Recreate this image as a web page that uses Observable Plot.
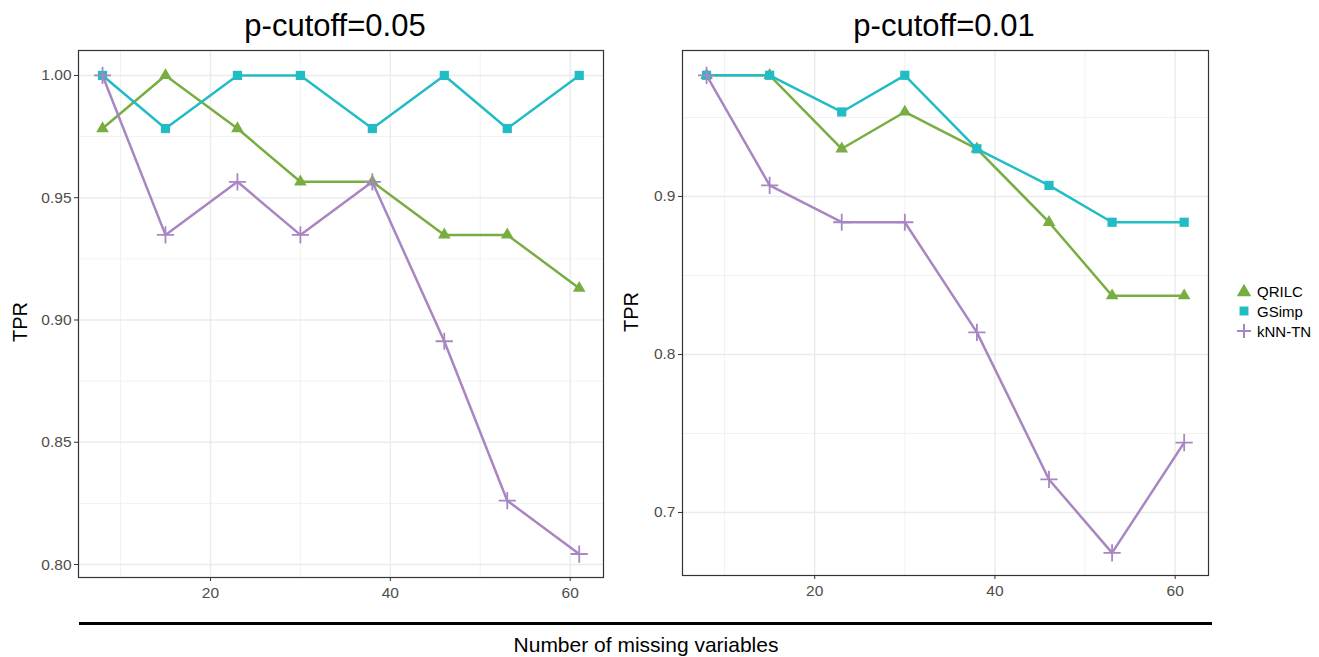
<!DOCTYPE html>
<html>
<head>
<meta charset="utf-8">
<script src="https://cdn.jsdelivr.net/npm/d3@7"></script>
<script src="https://cdn.jsdelivr.net/npm/@observablehq/plot@0.6"></script>
<style>
  html, body { margin: 0; padding: 0; background: #fff; }
  #root { position: relative; width: 1319px; height: 657px; overflow: hidden; font-family: "Liberation Sans", Arial, sans-serif; }
  #root svg.plotpanel text { font-size: 15.5px; font-family: "Liberation Sans", Arial, sans-serif; }
  .abs { position: absolute; }
  .title { font-size: 31px; line-height: 31px; color: #000; transform: translateX(-50%); white-space: nowrap; }
  .ylab { font-size: 20px; line-height: 20px; color: #000; transform: translate(-50%, -50%) rotate(-90deg); white-space: nowrap; }
  .legend-row { display: flex; align-items: center; height: 20px; font-size: 15px; color: #000; }
  .legend-row svg { margin-right: 3px; }
</style>
</head>
<body>
<div id="root"></div>
<script>
// ---- data ----
const missingVars = [8, 15, 23, 30, 38, 46, 53, 61];
const methods = ["QRILC", "GSimp", "kNN-TN"];
const methodColors = ["#78ad42", "#22bcc4", "#a886c2"];
const methodSymbols = ["triangle", "square", "plus"];

// p-cutoff = 0.05
const qrilc05 = [0.9783, 1.0000, 0.9783, 0.9565, 0.9565, 0.9348, 0.9348, 0.9130];
const gsimp05 = [1.0000, 0.9783, 1.0000, 1.0000, 0.9783, 1.0000, 0.9783, 1.0000];
const knn05   = [1.0000, 0.9348, 0.9565, 0.9348, 0.9565, 0.8913, 0.8261, 0.8043];

// p-cutoff = 0.01
const qrilc01 = [0.9767, 0.9767, 0.9302, 0.9535, 0.9302, 0.8837, 0.8372, 0.8372];
const gsimp01 = [0.9767, 0.9767, 0.9535, 0.9767, 0.9302, 0.9070, 0.8837, 0.8837];
const knn01   = [0.9767, 0.9070, 0.8837, 0.8837, 0.8140, 0.7209, 0.6744, 0.7442];

const yTicks05 = [0.80, 0.85, 0.90, 0.95, 1.00];
const yMinor05 = [0.825, 0.875, 0.925, 0.975];
const yTicks01 = [0.7, 0.8, 0.9];
const yMinor01 = [0.75, 0.85, 0.95];
const xTicks = [20, 40, 60];
const xMinor = [10, 30, 50];
const panelTitles = ["p-cutoff=0.05", "p-cutoff=0.01"];
const yTitle = "TPR";
const xTitle = "Number of missing variables";

function rows(q, g, k) {
  const out = [];
  [q, g, k].forEach((vals, i) => {
    vals.forEach((v, j) => out.push({method: methods[i], x: missingVars[j], y: v}));
  });
  return out;
}

function panel(data, opts) {
  const marks = [
    Plot.gridY(opts.yMinor, {stroke: "#ececec", strokeOpacity: 1, strokeWidth: 0.7}),
    Plot.gridX(xMinor, {stroke: "#ececec", strokeOpacity: 1, strokeWidth: 0.7}),
    Plot.gridY(opts.yTicks, {stroke: "#ebebeb", strokeOpacity: 1, strokeWidth: 1.4}),
    Plot.gridX(xTicks, {stroke: "#ebebeb", strokeOpacity: 1, strokeWidth: 1.4}),
    Plot.axisY(opts.yTicks, {tickSize: 4, tickPadding: 3, tickFormat: opts.fmt, fontSize: 15.5, color: "#333", fill: "#4d4d4d", label: null}),
    Plot.axisX(xTicks, {tickSize: 4, tickPadding: 5, fontSize: 15.5, color: "#333", fill: "#4d4d4d", label: null}),
  ];
  methods.forEach((m, i) => {
    const d = data.filter(r => r.method === m);
    marks.push(Plot.line(d, {x: "x", y: "y", stroke: methodColors[i], strokeWidth: 2.5}));
    if (methodSymbols[i] === "plus") {
      marks.push(Plot.dot(d, {x: "x", y: "y", symbol: "plus", r: 5.6, stroke: methodColors[i], strokeWidth: 1.8}));
    } else {
      marks.push(Plot.dot(d, {x: "x", y: "y", symbol: methodSymbols[i], r: methodSymbols[i] === "triangle" ? 4.7 : 5.2, fill: methodColors[i], stroke: "none"}));
    }
  });
  marks.push(Plot.frame({stroke: "#333", strokeWidth: 1.2}));
  const svg = Plot.plot({
    width: opts.width, height: opts.height,
    marginLeft: opts.ml, marginRight: opts.mr, marginTop: opts.mt, marginBottom: opts.mb,
    style: {fontFamily: '"Liberation Sans", Arial, sans-serif', background: "transparent", fontSize: "15.5px", color: "#333"},
    x: {domain: [5.33, 63.7]},
    y: {domain: opts.yDomain},
    marks
  });
  svg.classList.add("plotpanel");
  return svg;
}

const root = document.getElementById("root");

const left = panel(rows(qrilc05, gsimp05, knn05), {
  width: 610, height: 600, ml: 78, mr: 7, mt: 50, mb: 23,
  yDomain: [0.7947, 1.0102], yTicks: yTicks05, yMinor: yMinor05,
  fmt: d3.format(".2f")
});
left.classList.add("abs"); left.style.left = "0px"; left.style.top = "0px";
root.appendChild(left);

const right = panel(rows(qrilc01, gsimp01, knn01), {
  width: 608, height: 600, ml: 72, mr: 10, mt: 50, mb: 25,
  yDomain: [0.6601, 0.9924], yTicks: yTicks01, yMinor: yMinor01,
  fmt: d3.format(".1f")
});
right.classList.add("abs"); right.style.left = "610px"; right.style.top = "0px";
root.appendChild(right);

// titles
[[panelTitles[0], 335], [panelTitles[1], 944]].forEach(([t, cx]) => {
  const d = document.createElement("div");
  d.className = "abs title"; d.textContent = t;
  d.style.left = cx + "px"; d.style.top = "10px";
  root.appendChild(d);
});

// y-axis titles
[[20, 322], [631, 312]].forEach(([cx, cy]) => {
  const d = document.createElement("div");
  d.className = "abs ylab"; d.textContent = yTitle;
  d.style.left = cx + "px"; d.style.top = cy + "px";
  root.appendChild(d);
});

// bottom rule and shared x label
const rule = document.createElement("div");
rule.className = "abs";
Object.assign(rule.style, {left: "79px", top: "622px", width: "1133px", height: "3px", background: "#000"});
root.appendChild(rule);
const xl = document.createElement("div");
xl.className = "abs";
xl.textContent = xTitle;
Object.assign(xl.style, {left: "646px", top: "633px", transform: "translateX(-50%)", fontSize: "21px", lineHeight: "23px", whiteSpace: "nowrap", color: "#000"});
root.appendChild(xl);

// legend
const leg = document.createElement("div");
leg.className = "abs";
Object.assign(leg.style, {left: "1234px", top: "281px"});
methods.forEach((m, i) => {
  const row = document.createElement("div");
  row.className = "legend-row";
  const sym = d3.create("svg").attr("width", 20).attr("height", 20);
  const s = methodSymbols[i];
  if (s === "plus") {
    sym.append("path").attr("d", "M3,10H17M10,3V17").attr("stroke", methodColors[i]).attr("stroke-width", 2).attr("fill", "none");
  } else {
    const t = s === "triangle" ? d3.symbolTriangle : d3.symbolSquare;
    sym.append("path").attr("transform", s === "triangle" ? "translate(10,11)" : "translate(10,10)")
      .attr("d", d3.symbol(t, s === "triangle" ? 90 : 80)()).attr("fill", methodColors[i]);
  }
  row.appendChild(sym.node());
  const lab = document.createElement("span"); lab.textContent = m;
  row.appendChild(lab);
  leg.appendChild(row);
});
root.appendChild(leg);
</script>
</body>
</html>
